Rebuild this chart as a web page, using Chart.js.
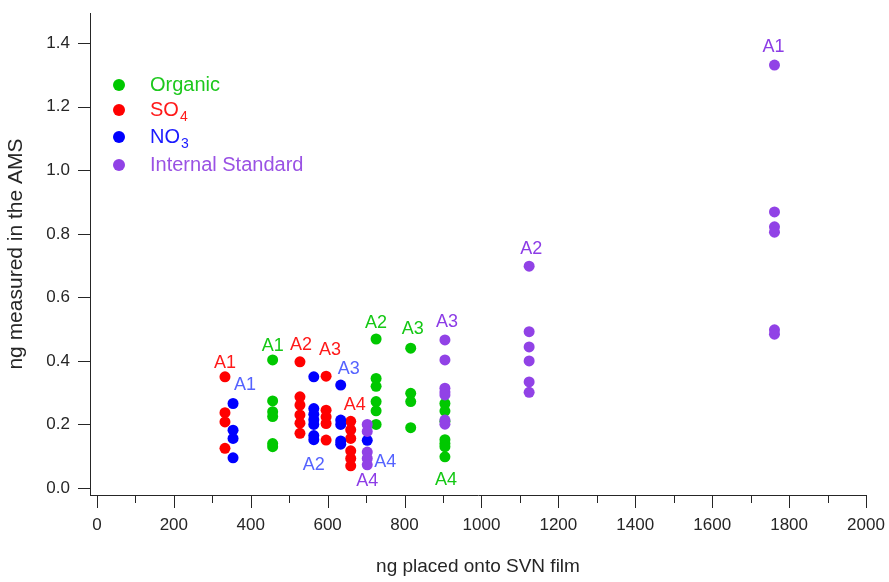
<!DOCTYPE html>
<html>
<head>
<meta charset="utf-8">
<title>ng placed vs ng measured</title>
<script src="https://cdn.jsdelivr.net/npm/chart.js@4.4.1/dist/chart.umd.min.js"></script>
<style>
    html, body { margin: 0; padding: 0; background: #fff; }
    #wrap { width: 889px; height: 582px; }
</style>
</head>
<body>
<div id="wrap"><canvas id="myChart" width="889" height="582"></canvas></div>
<script>
// samples, in the same order as every "placed" array below
const sampleNames = ['A1', 'A2', 'A3', 'A4'];

// Organic
const organicPlaced = [457, 726, 816, 905];
const organicMeasured = [
    [0.403, 0.274, 0.24, 0.225, 0.14, 0.13],
    [0.469, 0.345, 0.32, 0.272, 0.243, 0.2],
    [0.44, 0.298, 0.272, 0.19],
    [0.266, 0.242, 0.21, 0.152, 0.14, 0.13, 0.098]
];

// SO4
const so4Placed = [333, 528, 596, 660];
const so4Measured = [
    [0.35, 0.237, 0.208, 0.125],
    [0.397, 0.287, 0.261, 0.23, 0.204, 0.172],
    [0.352, 0.245, 0.224, 0.203, 0.151],
    [0.21, 0.183, 0.156, 0.117, 0.093, 0.07]
];

// NO3
const no3Placed = [354, 564, 634, 703];
const no3Measured = [
    [0.266, 0.182, 0.156, 0.095],
    [0.35, 0.25, 0.232, 0.215, 0.2, 0.165, 0.152],
    [0.324, 0.214, 0.2, 0.148, 0.138],
    [0.15]
];

// Internal Standard
const stdPlaced = [1762, 1124, 905, 703];
const stdMeasured = [
    [1.331, 0.869, 0.822, 0.805, 0.498, 0.484],
    [0.698, 0.492, 0.444, 0.4, 0.334, 0.301],
    [0.466, 0.403, 0.314, 0.302, 0.293, 0.214, 0.201],
    [0.2, 0.178, 0.113, 0.093, 0.073]
];

const yTickValues = [0, 0.2, 0.4, 0.6, 0.8, 1.0, 1.2, 1.4];
const xTickValues = [0, 200, 400, 600, 800, 1000, 1200, 1400, 1600, 1800, 2000];

const FONT = "'Liberation Sans', Arial, sans-serif";
const AXIS_COLOR = '#262626';

// where each "A" label sits next to its column: anchor point, dx, dy (pixels)
const series = [
    { name: 'Organic', sub: '', color: '#00c800', text: '#1ec81e', labelColor: '#14c814',
      placed: organicPlaced, measured: organicMeasured,
      labels: [['top', 0, -14], ['top', 0, -16], ['top', 2, -19], ['bottom', 1, 23]] },
    { name: 'SO', sub: '4', color: '#ff0000', text: '#ff1a1a', labelColor: '#ff1a1a',
      placed: so4Placed, measured: so4Measured,
      labels: [['top', 0, -14], ['top', 1, -17], ['top', 4, -26], ['top', 4, -16]] },
    { name: 'NO', sub: '3', color: '#0000ff', text: '#1a1aff', labelColor: '#5563ff',
      placed: no3Placed, measured: no3Measured,
      labels: [['top', 12, -18], ['bottom', 0, 25], ['top', 8, -16], ['bottom', 18, 22]] },
    { name: 'Internal Standard', sub: '', color: '#9142e6', text: '#9a52e4', labelColor: '#8c3ce6',
      placed: stdPlaced, measured: stdMeasured,
      labels: [['top', -1, -18], ['top', 2, -17], ['top', 2, -18], ['bottom', 0, 16]] }
];

function toPoints(placed, measured) {
    const pts = [];
    placed.forEach(function(x, i) {
        measured[i].forEach(function(y) { pts.push({ x: x, y: y }); });
    });
    return pts;
}

// axis tick marks, legend and sample labels
const decorPlugin = {
    id: 'decor',
    afterDraw: function(chart) {
        const ctx = chart.ctx;
        const xs = chart.scales.x;
        const ys = chart.scales.y;
        const area = chart.chartArea;
        ctx.save();
        ctx.strokeStyle = AXIS_COLOR;
        ctx.lineWidth = 1;
        ctx.beginPath();
        for (let v = 0; v <= 2000; v += 100) {
            const px = Math.round(xs.getPixelForValue(v)) + 0.5;
            const len = v % 200 === 0 ? 13 : 8;
            ctx.moveTo(px, area.bottom);
            ctx.lineTo(px, area.bottom + len);
        }
        yTickValues.forEach(function(v) {
            const py = Math.round(ys.getPixelForValue(v)) + 0.5;
            ctx.moveTo(area.left, py);
            ctx.lineTo(area.left - 12, py);
        });
        ctx.stroke();

        // sample labels
        ctx.font = '18px ' + FONT;
        ctx.textAlign = 'center';
        ctx.textBaseline = 'middle';
        series.forEach(function(s) {
            s.placed.forEach(function(x, i) {
                const vals = s.measured[i];
                const lay = s.labels[i];
                const ref = lay[0] === 'top' ? Math.max.apply(null, vals) : Math.min.apply(null, vals);
                ctx.fillStyle = s.labelColor;
                ctx.fillText(sampleNames[i], xs.getPixelForValue(x) + lay[1], ys.getPixelForValue(ref) + lay[2]);
            });
        });

        // legend
        const rows = [85, 110, 137, 165];
        ctx.textAlign = 'left';
        series.forEach(function(s, i) {
            ctx.fillStyle = s.color;
            ctx.beginPath();
            ctx.arc(119, rows[i], 6, 0, Math.PI * 2);
            ctx.fill();
            ctx.fillStyle = s.text;
            ctx.font = '20px ' + FONT;
            ctx.fillText(s.name, 150, rows[i]);
            if (s.sub) {
                const w = ctx.measureText(s.name).width;
                ctx.font = '14px ' + FONT;
                ctx.fillText(s.sub, 150 + w + 1, rows[i] + 7);
            }
        });
        ctx.restore();
    }
};

const ctx = document.getElementById('myChart');
const myChart = new Chart(ctx, {
    type: 'scatter',
    data: {
        datasets: series.map(function(s, i) {
            return {
                label: s.name + s.sub,
                data: toPoints(s.placed, s.measured),
                backgroundColor: s.color,
                borderWidth: 0,
                pointRadius: 5.5,
                order: series.length - i
            };
        })
    },
    options: {
        responsive: false,
        animation: false,
        layout: { padding: { top: 13, right: 23, left: 0, bottom: 0 } },
        plugins: { legend: { display: false }, tooltip: { enabled: false } },
        scales: {
            x: {
                type: 'linear',
                min: -18,
                max: 2000,
                afterFit: function(scale) {
                    scale.height = 87;
                    scale.paddingLeft = 0;
                    scale.paddingRight = 0;
                },
                afterBuildTicks: function(scale) {
                    scale.ticks = xTickValues.map(function(v) { return { value: v }; });
                },
                grid: { display: false, drawTicks: false },
                border: { display: true, color: AXIS_COLOR, width: 1 },
                ticks: { color: AXIS_COLOR, font: { family: FONT, size: 17 }, padding: 20, maxRotation: 0, autoSkip: false,
                         callback: function(v) { return String(v); } },
                title: { display: true, text: 'ng placed onto SVN film', color: AXIS_COLOR,
                         font: { family: FONT, size: 19 }, padding: { top: 0, bottom: 4 } }
            },
            y: {
                type: 'linear',
                min: -0.022,
                max: 1.495,
                afterFit: function(scale) {
                    scale.width = 90;
                    scale.paddingTop = 0;
                    scale.paddingBottom = 0;
                },
                afterBuildTicks: function(scale) {
                    scale.ticks = yTickValues.map(function(v) { return { value: v }; });
                },
                grid: { display: false, drawTicks: false },
                border: { display: true, color: AXIS_COLOR, width: 1 },
                ticks: { color: AXIS_COLOR, font: { family: FONT, size: 17 }, padding: 20,
                         callback: function(v) { return v.toFixed(1); } },
                title: { display: true, text: 'ng measured in the AMS', color: AXIS_COLOR,
                         font: { family: FONT, size: 21 }, padding: { top: 4, bottom: 0 } }
            }
        }
    },
    plugins: [decorPlugin]
});
</script>
</body>
</html>
